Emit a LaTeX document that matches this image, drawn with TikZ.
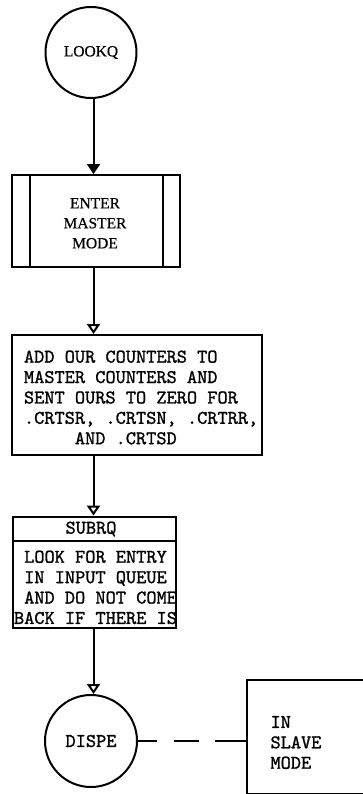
\documentclass[tikz,border=0pt]{standalone}
\usepackage{fontspec}
\setmainfont{Liberation Serif}[FakeBold=0.6]
\setmonofont{lmmono10-regular.otf}[FakeBold=1.2]
\usetikzlibrary{arrows.meta,calc}
\begin{document}
\begin{tikzpicture}[x=1pt,y=-1pt,
  line width=2pt,
  box/.style={draw, rectangle, inner sep=0pt},
  term/.style={draw, circle, inner sep=0pt, minimum size=91pt},
  serif/.style={font=\fontsize{15.5}{20}\selectfont},
  mono/.style={font=\ttfamily\fontsize{19.4}{20.4}\selectfont},
  flow/.style={-{Triangle[open,length=10pt,width=13pt]}},
  flowfill/.style={-{Triangle[length=10pt,width=13pt]}},
  dashline/.style={dash pattern=on 19pt off 17pt on 25pt off 16pt on 40pt off 0pt}
]
\useasboundingbox (0,0) rectangle (363,794);

% LOOKQ terminal
\node[term, serif] (lookq) at (91,52.5) {LOOKQ};

% ENTER MASTER MODE (predefined process)
\node[box, minimum width=167.7pt, minimum height=91.5pt] (enter) at (96.2,220.8) {};
\draw ($(enter.north west)+(18.4,0)$) -- ($(enter.south west)+(18.4,0)$);
\draw ($(enter.north east)+(-18.3,0)$) -- ($(enter.south east)+(-18.3,0)$);
\node[serif, align=center, inner sep=0pt] (entertxt) at (95,223.3) {ENTER\hspace{8pt}\\MASTER\\MODE};

% ADD OUR COUNTERS box
\node[box, minimum width=250.6pt, minimum height=120pt] (add) at (137,395) {};
\node[mono, align=left, anchor=west, inner sep=0pt] (addtxt) at (23,397.5)
  {ADD OUR COUNTERS TO\\MASTER COUNTERS AND\\SENT OURS TO ZERO FOR\\.CRTSR, .CRTSN, .CRTRR,\\\hphantom{XXXXX}AND .CRTSD};

% SUBRQ box
\node[box, minimum width=163pt, minimum height=111.5pt] (subrq) at (94.5,572.3) {};
\draw ($(subrq.north west)+(0,25)$) -- ($(subrq.north east)+(0,25)$);
\node[mono, inner sep=0pt] (subrqtitle) at (91,529) {SUBRQ};
\node[mono, align=left, anchor=west, inner sep=0pt] (subrqtxt) at (13,587.4)
  {\hphantom{X}LOOK FOR ENTRY\\\hphantom{X}IN INPUT QUEUE\\\hphantom{X}AND DO NOT COME\\BACK IF THERE IS};

% DISPE terminal
\node[term, mono, minimum size=92pt] (dispe) at (91,741) {DISPE};

% IN SLAVE MODE (open box, right side cut off by the page edge)
\node[inner sep=0pt, minimum width=130pt, minimum height=111.5pt] (slave) at (313,736.75) {};
\draw (slave.north east) -- (slave.north west) -- (slave.south west) -- (slave.south east);
\node[mono, align=left, anchor=west, inner sep=0pt] (slavetxt) at (269.5,742.5) {IN\\SLAVE\\MODE};

% connectors
\coordinate (a1) at ($(lookq.south)+(2.5,0)$);
\draw[flowfill] (a1) -- (a1 |- enter.north);
\draw[flow] (a1 |- enter.south) -- (a1 |- add.north);
\draw[flow] (a1 |- add.south) -- (a1 |- subrq.north);
\draw[flow] (a1 |- subrq.south) -- (a1 |- dispe.north);
\draw[dashline] (dispe.east) -- (dispe.east -| slave.west);
\end{tikzpicture}
\end{document}
